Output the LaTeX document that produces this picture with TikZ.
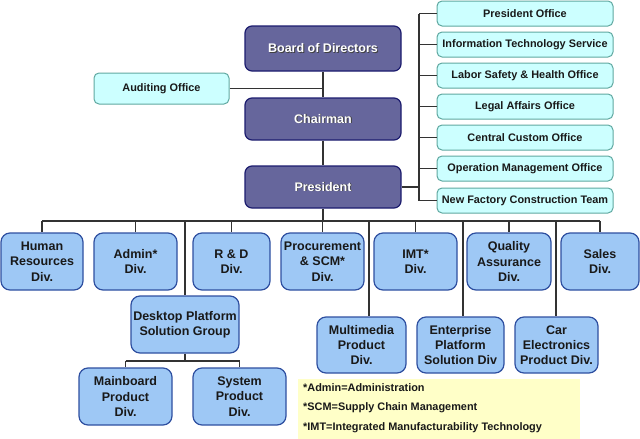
\documentclass[tikz,border=0pt]{standalone}
\usepackage{fontspec}
\setmainfont{Liberation Sans}
\newcommand\shtext[1]{\makebox[0pt][l]{\raisebox{-0.9pt}{\hspace{0.9pt}\color{black!75}#1}}#1}
\definecolor{darkfill}{HTML}{66669C}
\definecolor{darkline}{HTML}{1C1C6E}
\definecolor{offfill}{HTML}{CCFFFF}
\definecolor{offline}{HTML}{5FA8A0}
\definecolor{divfill}{HTML}{9EC8F5}
\definecolor{divline}{HTML}{2E4FA0}
\definecolor{legfill}{HTML}{FFFFC8}
\definecolor{conn}{HTML}{333333}
\tikzset{
  darkbox/.style={draw=darkline, fill=darkfill, line width=1.2pt, rounded corners=7pt,
    minimum width=156pt, inner sep=0pt, text=white, font=\fontsize{12.5}{14}\selectfont\bfseries},
  officebox/.style={draw=offline, fill=offfill, line width=1pt, rounded corners=5pt,
    minimum width=176pt, minimum height=25pt, inner sep=0pt, text=black!90,
    font=\fontsize{10.9}{13}\selectfont\bfseries},
  divbox/.style={draw=divline, fill=divfill, line width=1.2pt, rounded corners=9pt,
    inner sep=0pt, align=center, text=black!90, font=\fontsize{12.5}{15.3}\selectfont\bfseries},
  legtext/.style={anchor=west, inner sep=0pt, text=black!90, font=\fontsize{10.9}{12}\selectfont\bfseries},
  link/.style={draw=conn, line width=1.2pt}
}
\begin{document}
\begin{tikzpicture}[x=1pt,y=-1pt]
\useasboundingbox (0,0) rectangle (640,439);
% legend background
\node[fill=legfill, inner sep=0pt, minimum width=282pt, minimum height=60pt] (legend) at (439,409) {};
\node[legtext] (l1) at (303,388) {*Admin=Administration};
\node[legtext] (l2) at (303,408) {*SCM=Supply Chain Management};
\node[legtext] (l3) at (303,428) {*IMT=Integrated Manufacturability Technology};
% top
\node[darkbox, minimum height=45pt] (board) at (323,48.5) {\shtext{Board of Directors}};
\node[darkbox, minimum height=42pt] (chair) at (323,119) {\shtext{Chairman}};
\node[darkbox, minimum height=42pt] (pres) at (323,187) {\shtext{President}};
\node[officebox, minimum width=135pt, minimum height=31pt] (audit) at (161.5,88.5) {Auditing Office};
% offices
\node[officebox] (o1) at (525,13.5) {President Office};
\node[officebox] (o2) at (525,44.5) {Information Technology Service};
\node[officebox] (o3) at (525,75.5) {Labor Safety \& Health Office};
\node[officebox] (o4) at (525,106.5) {Legal Affairs Office};
\node[officebox] (o5) at (525,137.5) {Central Custom Office};
\node[officebox] (o6) at (525,168.5) {Operation Management Office};
\node[officebox] (o7) at (525,200.5) {New Factory Construction Team};
% divisions row 1
\node[divbox, minimum width=82pt, minimum height=57pt] (hr) at (42,261.5) {Human\\Resources\\Div.};
\node[divbox, minimum width=83pt, minimum height=57pt] (admin) at (135.5,261.5) {Admin*\\Div.};
\node[divbox, minimum width=77pt, minimum height=57pt] (rd) at (231.5,261.5) {R \& D\\Div.};
\node[divbox, minimum width=83pt, minimum height=57pt] (proc) at (322.5,261.5) {Procurement\\\& SCM*\\Div.};
\node[divbox, minimum width=83pt, minimum height=57pt] (imt) at (415.5,261.5) {IMT*\\Div.};
\node[divbox, minimum width=84pt, minimum height=57pt] (qa) at (509,261.5) {Quality\\Assurance\\Div.};
\node[divbox, minimum width=78pt, minimum height=57pt] (sales) at (600,261.5) {Sales\\Div.};
% row 2
\node[divbox, minimum width=108pt, minimum height=57pt] (desk) at (185,324.5) {Desktop Platform\\Solution Group};
\node[divbox, minimum width=89pt, minimum height=56pt] (mm) at (361.5,345) {Multimedia\\Product\\Div.};
\node[divbox, minimum width=87pt, minimum height=56pt] (ent) at (460.5,345) {Enterprise\\Platform\\Solution Div};
\node[divbox, minimum width=83pt, minimum height=56pt] (car) at (556.5,345) {Car\\Electronics\\Product Div.};
% row 3
\node[divbox, minimum width=93pt, minimum height=57pt] (mainb) at (125.5,396.5) {Mainboard\\Product\\Div.};
\node[divbox, minimum width=93pt, minimum height=57pt] (sys) at (239.5,396.5) {System\\Product\\Div.};
% coordinates
\coordinate (auj) at (323,88.5);
\coordinate (rbus) at (419,187);
\coordinate (rtop) at (419,13.5);
\coordinate (rbot) at (419,200.5);
\coordinate (bbus) at (323,221);
\coordinate (bl) at (42,221);
\coordinate (br) at (600,221);
\coordinate (dmm) at (369,221);
\coordinate (dent) at (463,221);
\coordinate (dcar) at (556,221);
\coordinate (dsk) at (185,221);
\coordinate (sbus) at (185,361);
% connectors
\draw[link] (board) -- (chair);
\draw[link] (chair) -- (pres);
\draw[link] (audit.east) -- (auj);
\draw[link] (pres.east) -- (rbus);
\draw[link] (rtop) -- (rbot);
\foreach \o in {o1,o2,o3,o4,o5,o6,o7}{\draw[link] (\o.west -| rbus) -- (\o.west);}
\draw[link] (pres.south) -- (bbus);
\draw[link] (bl) -- (br);
\foreach \d in {hr,admin,rd,proc,imt,qa,sales}{\draw[link] (\d.north |- bbus) -- (\d.north);}
\draw[link] (dsk) -- (desk.north);
\draw[link] (dmm) -- (mm.north -| dmm);
\draw[link] (dent) -- (ent.north -| dent);
\draw[link] (dcar) -- (car.north -| dcar);
\draw[link] (desk.south) -- (sbus);
\draw[link] (mainb.north |- sbus) -- (sys.north |- sbus);
\draw[link] (mainb.north |- sbus) -- (mainb.north);
\draw[link] (sys.north |- sbus) -- (sys.north);
\end{tikzpicture}
\end{document}
